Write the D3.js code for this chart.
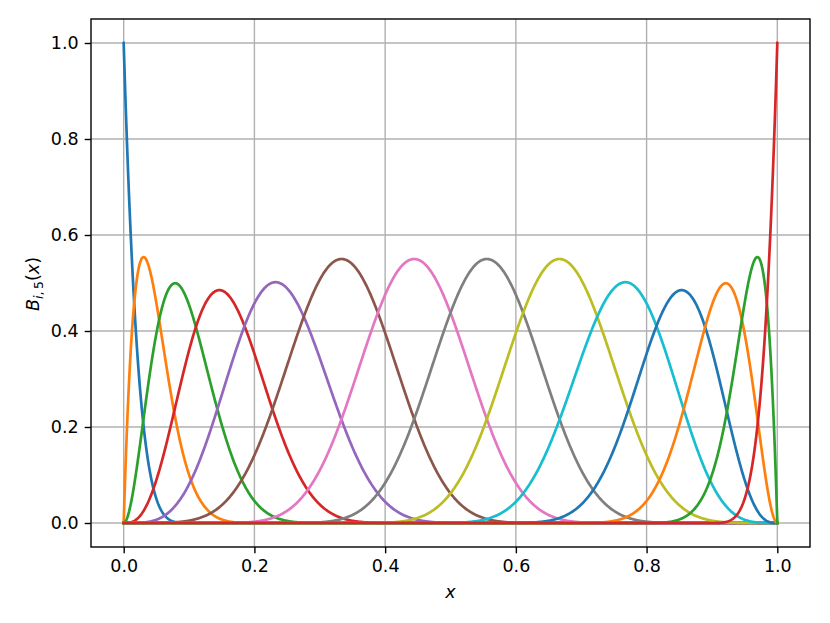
<!DOCTYPE html>
<html><head><meta charset="utf-8">
<script src="https://cdn.jsdelivr.net/npm/d3@7"></script>
<style>body{margin:0;background:#fff}svg text{font-family:"DejaVu Sans",sans-serif}</style>
</head><body>
<svg id="chart" width="830" height="623"></svg>
<script>
// B-spline definition (data): clamped degree-5 knot vector with uniform interior knots
const degree = 5;
const knots = [0,0,0,0,0,0, 1/9,2/9,3/9,4/9,5/9,6/9,7/9,8/9, 1,1,1,1,1,1];
const colors = ["#1f77b4","#ff7f0e","#2ca02c","#d62728","#9467bd","#8c564b","#e377c2","#7f7f7f","#bcbd22","#17becf"];
const xTicks = [0.0,0.2,0.4,0.6,0.8,1.0];
const yTicks = [0.0,0.2,0.4,0.6,0.8,1.0];
const nSamples = 1000;

function basis(i, p, x) {
  if (p === 0) {
    const a = knots[i], b = knots[i+1];
    if (a === b) return 0;
    const last = knots[knots.length-1];
    if (x >= a && (x < b || (x === last && b === last))) return 1;
    return 0;
  }
  let v = 0;
  const d1 = knots[i+p] - knots[i];
  if (d1 > 0) v += (x - knots[i]) / d1 * basis(i, p-1, x);
  const d2 = knots[i+p+1] - knots[i+1];
  if (d2 > 0) v += (knots[i+p+1] - x) / d2 * basis(i+1, p-1, x);
  return v;
}
const nBasis = knots.length - degree - 1;
const xs = d3.range(nSamples).map(k => k/(nSamples-1));
const series = d3.range(nBasis).map(i => xs.map(x => [x, basis(i, degree, x)]));

const svg = d3.select("#chart");
const L = 91, R = 810, T = 19, B = 547;
const x = d3.scaleLinear().domain([-0.05, 1.05]).range([L, R]);
const y = d3.scaleLinear().domain([-0.05, 1.05]).range([B, T]);

// grid
svg.append("g").selectAll("line").data(xTicks).join("line")
  .attr("x1", d => x(d)).attr("x2", d => x(d)).attr("y1", T).attr("y2", B)
  .attr("stroke", "#b0b0b0").attr("stroke-width", 1.4);
svg.append("g").selectAll("line").data(yTicks).join("line")
  .attr("y1", d => y(d)).attr("y2", d => y(d)).attr("x1", L).attr("x2", R)
  .attr("stroke", "#b0b0b0").attr("stroke-width", 1.4);

svg.append("clipPath").attr("id","clip").append("rect")
  .attr("x", L).attr("y", T).attr("width", R-L).attr("height", B-T);

const line = d3.line().x(d => x(d[0])).y(d => y(d[1]));
svg.append("g").attr("clip-path","url(#clip)").selectAll("path").data(series).join("path")
  .attr("d", line).attr("fill","none")
  .attr("stroke", (d,i) => colors[i % colors.length])
  .attr("stroke-width", 2.7).attr("stroke-linejoin","round").attr("stroke-linecap","square");

// axes
const fmt = d3.format(".1f");
const xAxis = d3.axisBottom(x).tickValues(xTicks).tickFormat(fmt).tickSize(6.3).tickPadding(6);
const yAxis = d3.axisLeft(y).tickValues(yTicks).tickFormat(fmt).tickSize(6.3).tickPadding(6);
const gx = svg.append("g").attr("transform", `translate(0,${B})`).call(xAxis);
const gy = svg.append("g").attr("transform", `translate(${L},0)`).call(yAxis);
[gx, gy].forEach(g => {
  g.select(".domain").remove();
  g.selectAll(".tick line").attr("stroke","#000").attr("stroke-width",1.4);
  g.selectAll(".tick text").attr("fill","#000").attr("font-size",17.5).attr("font-family","DejaVu Sans");
});
svg.append("rect").attr("x", L).attr("y", T).attr("width", R-L).attr("height", B-T)
  .attr("fill","none").attr("stroke","#000").attr("stroke-width",1.4);

// labels
svg.append("text").attr("x", (L+R)/2).attr("y", 598).attr("text-anchor","middle")
  .attr("font-size", 17.5).attr("font-style","italic").text("x");
const yl = svg.append("text").attr("transform", "translate(39,284) rotate(-90)")
  .attr("text-anchor","middle").attr("font-size", 17.5);
yl.append("tspan").attr("font-style","italic").text("B");
yl.append("tspan").attr("font-size", 12.5).attr("dy", 4).attr("font-style","italic").text("i");
yl.append("tspan").attr("font-size", 12.5).text(",\u20095");
yl.append("tspan").attr("dy", -4).text("(");
yl.append("tspan").attr("font-style","italic").text("x");
yl.append("tspan").text(")");
</script>
</body></html>
